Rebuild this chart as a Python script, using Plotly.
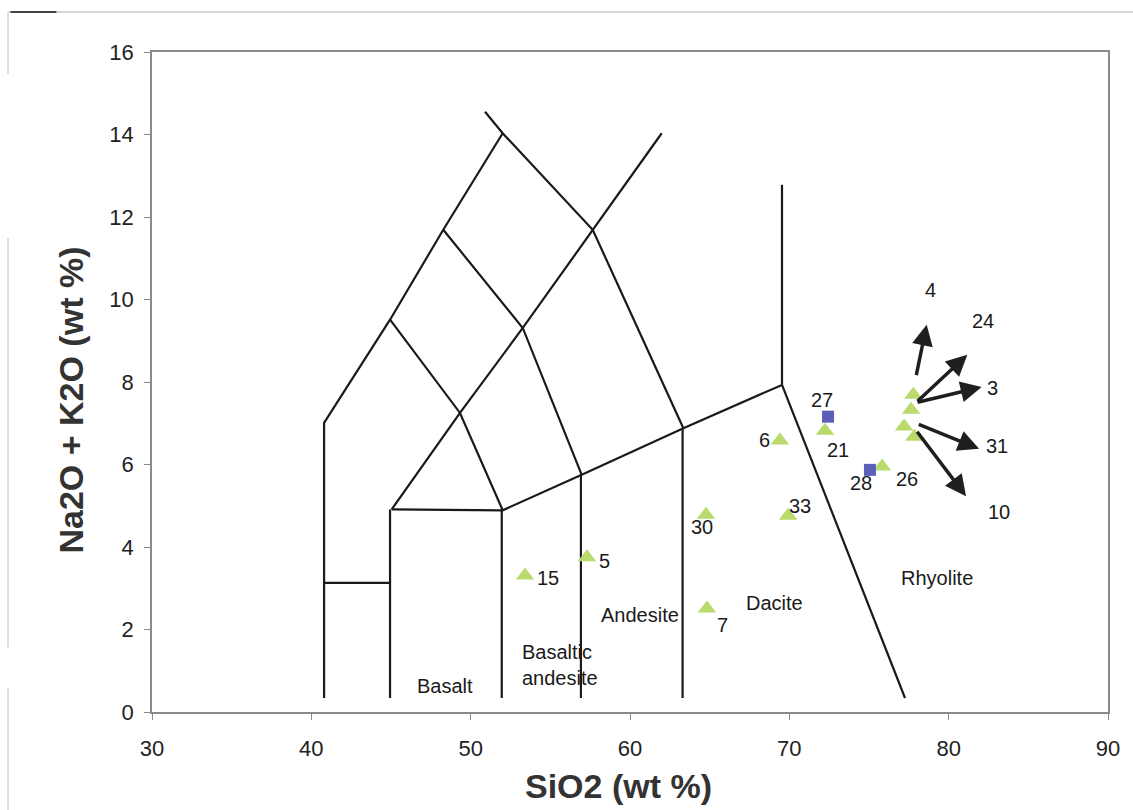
import plotly.graph_objects as go

# ---------------- data ----------------
# TAS field boundaries (SiO2, Na2O+K2O)
bnd_outer_x = [40.8, 40.8, 44.94, 48.28, 52.01]
bnd_outer_y = [0.34, 7.01, 9.51, 11.69, 14.03]
bnd_upper_x = [50.90, 52.01, 57.66, 63.35]
bnd_upper_y = [14.55, 14.03, 11.69, 6.88]
bnd_mid1_x = [44.94, 49.33, 52.01]
bnd_mid1_y = [9.51, 7.25, 4.89]
bnd_mid2_x = [48.28, 53.27, 56.97]
bnd_mid2_y = [11.69, 9.31, 5.75]
bnd_diag_x = [45.04, 49.33, 53.27, 57.66, 61.99]
bnd_diag_y = [4.91, 7.25, 9.31, 11.69, 14.03]
bnd_low_x = [45.04, 52.01, 56.97, 63.35, 69.54]
bnd_low_y = [4.91, 4.89, 5.75, 6.88, 7.93]
bnd_v45_x = [44.94, 44.94]
bnd_v45_y = [0.34, 4.91]
bnd_v52_x = [51.95, 51.95]
bnd_v52_y = [0.34, 4.89]
bnd_v57_x = [56.92, 56.92]
bnd_v57_y = [0.34, 5.75]
bnd_v63_x = [63.3, 63.3]
bnd_v63_y = [0.34, 6.88]
bnd_v69_x = [69.54, 69.54]
bnd_v69_y = [7.93, 12.78]
bnd_rhy_x = [69.54, 77.26]
bnd_rhy_y = [7.93, 0.34]
bnd_h3_x = [40.8, 44.94]
bnd_h3_y = [3.13, 3.13]

# samples (triangles)
tri_sio2 = [53.41, 57.30, 64.77, 64.83, 69.41, 69.92, 72.24, 75.82, 77.78, 77.64, 77.20, 77.84]
tri_alk = [3.31, 3.75, 4.78, 2.51, 6.58, 4.76, 6.82, 5.95, 7.69, 7.33, 6.92, 6.67]
# samples (squares)
sq_sio2 = [72.43, 75.06]
sq_alk = [7.16, 5.87]

# sample labels
lab_text = ["15", "5", "30", "7", "6", "33", "21", "27", "28", "26", "4", "24", "3", "31", "10"]
lab_x = [54.85, 58.43, 64.52, 65.78, 68.47, 70.67, 73.05, 72.06, 74.50, 77.40, 78.87, 82.18, 82.76, 83.05, 83.18]
lab_y = [3.26, 3.65, 4.49, 2.12, 6.60, 5.00, 6.36, 7.57, 5.56, 5.65, 10.24, 9.49, 7.85, 6.44, 4.84]

# arrows (tail -> tip)
arr_tail_x = [77.95, 77.95, 77.95, 78.03, 77.95]
arr_tail_y = [8.13, 7.50, 7.50, 6.99, 6.83]
arr_tip_x = [78.62, 81.17, 82.07, 81.91, 81.09]
arr_tip_y = [9.39, 8.66, 7.88, 6.38, 5.23]

# rock field names
rock_text = ["Basalt", "Basaltic<br>andesite", "Andesite", "Dacite", "Rhyolite"]
rock_x = [48.39, 55.61, 60.63, 69.10, 79.27]
rock_y = [0.62, 1.15, 2.36, 2.65, 3.26]

x_ticks = [30, 40, 50, 60, 70, 80, 90]
y_ticks = [0, 2, 4, 6, 8, 10, 12, 14, 16]

# ---------------- figure ----------------
FONT = "Liberation Sans, Arial, sans-serif"
fig = go.Figure()

boundaries = [
    (bnd_outer_x, bnd_outer_y), (bnd_upper_x, bnd_upper_y), (bnd_mid1_x, bnd_mid1_y),
    (bnd_mid2_x, bnd_mid2_y), (bnd_diag_x, bnd_diag_y), (bnd_low_x, bnd_low_y),
    (bnd_v45_x, bnd_v45_y), (bnd_v52_x, bnd_v52_y), (bnd_v57_x, bnd_v57_y),
    (bnd_v63_x, bnd_v63_y), (bnd_v69_x, bnd_v69_y), (bnd_rhy_x, bnd_rhy_y),
    (bnd_h3_x, bnd_h3_y),
]
for bx, by in boundaries:
    fig.add_trace(go.Scatter(x=bx, y=by, mode="lines",
                             line=dict(color="#1a1a1a", width=2.2),
                             hoverinfo="skip", showlegend=False))

fig.add_trace(go.Scatter(x=tri_sio2, y=tri_alk, mode="markers",
                         marker=dict(symbol="triangle-up", size=16, color="#b9da6c",
                                     line=dict(width=0)),
                         showlegend=False))
fig.add_trace(go.Scatter(x=sq_sio2, y=sq_alk, mode="markers",
                         marker=dict(symbol="square", size=12, color="#5b5fb8",
                                     line=dict(width=0)),
                         showlegend=False))

annotations = []
for t, x, y in zip(lab_text, lab_x, lab_y):
    annotations.append(dict(x=x, y=y, xref="x", yref="y", text=t, showarrow=False,
                            font=dict(family=FONT, size=20, color="#1a1a1a")))
for t, x, y in zip(rock_text, rock_x, rock_y):
    annotations.append(dict(x=x, y=y, xref="x", yref="y", text=t, showarrow=False,
                            align="left",
                            font=dict(family=FONT, size=20, color="#1a1a1a")))
for tx, ty, hx, hy in zip(arr_tail_x, arr_tail_y, arr_tip_x, arr_tip_y):
    annotations.append(dict(x=hx, y=hy, ax=tx, ay=ty, xref="x", yref="y",
                            axref="x", ayref="y", text="", showarrow=True,
                            arrowhead=2, arrowsize=1.2, arrowwidth=3.5,
                            arrowcolor="#1f1f1f", standoff=0, startstandoff=0))

# axis titles
annotations.append(dict(x=0.488, y=-0.1128, xref="paper", yref="paper",
                        xanchor="center", yanchor="middle",
                        text="<b>SiO2 (wt %)</b>", showarrow=False,
                        font=dict(family=FONT, size=34, color="#333333")))
annotations.append(dict(x=-0.085, y=0.473, xref="paper", yref="paper",
                        xanchor="center", yanchor="middle",
                        text="<b>Na2O + K2O (wt %)</b>", showarrow=False, textangle=-90,
                        font=dict(family=FONT, size=34, color="#333333")))

# scan frame artefacts
shapes = [
    dict(type="line", xref="paper", yref="paper", x0=-0.15, x1=1.03, y0=1.0606, y1=1.0606,
         line=dict(color="#aaaaaa", width=1)),
    dict(type="line", xref="paper", yref="paper", x0=-0.148, x1=-0.1, y0=1.0606, y1=1.0606,
         line=dict(color="#444444", width=2)),
    dict(type="line", xref="paper", yref="paper", x0=-0.1506, x1=-0.1506, y0=1.0606, y1=0.966,
         line=dict(color="#bbbbbb", width=1)),
    dict(type="line", xref="paper", yref="paper", x0=-0.1506, x1=-0.1506, y0=0.718, y1=0.098,
         line=dict(color="#bbbbbb", width=1)),
    dict(type="line", xref="paper", yref="paper", x0=-0.1506, x1=-0.1506, y0=0.037, y1=-0.15,
         line=dict(color="#bbbbbb", width=1)),
]

fig.update_layout(
    width=1133, height=810,
    margin=dict(l=152, r=25, t=52, b=98, pad=0),
    paper_bgcolor="white", plot_bgcolor="white",
    annotations=annotations, shapes=shapes,
    font=dict(family=FONT, size=22, color="#222222"),
    xaxis=dict(range=[30, 90], tickvals=x_ticks, showgrid=False, zeroline=False,
               showline=True, mirror=True, linecolor="#8a8a8a", linewidth=1.5,
               ticks="outside", ticklen=6, tickcolor="#8a8a8a", ticklabelstandoff=10,
               tickfont=dict(family=FONT, size=22, color="#222222")),
    yaxis=dict(range=[0, 16], tickvals=y_ticks, showgrid=False, zeroline=False,
               showline=True, mirror=True, linecolor="#8a8a8a", linewidth=1.5,
               ticks="outside", ticklen=6, tickcolor="#8a8a8a", ticklabelstandoff=6,
               tickfont=dict(family=FONT, size=22, color="#222222")),
)

fig.write_html("out.html")
